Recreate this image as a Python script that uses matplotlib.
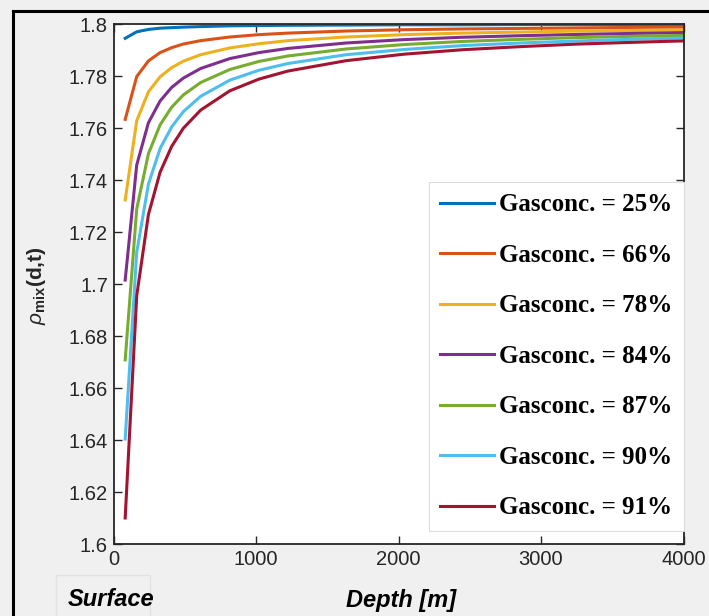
import matplotlib
matplotlib.use("Agg")
import matplotlib.pyplot as plt
from matplotlib.patches import Rectangle
from matplotlib.lines import Line2D

# ******************************************************************************
# * data
# ******************************************************************************
depth = [82, 163, 245, 327, 408, 490, 612, 816, 1020, 1224, 1633, 2041,
         2449, 2857, 3265, 3673, 4000]

labels = ['Gasconc. = 25%', 'Gasconc. = 66%', 'Gasconc. = 78%',
          'Gasconc. = 84%', 'Gasconc. = 87%', 'Gasconc. = 90%',
          'Gasconc. = 91%']

rho_25 = [1.7945, 1.7970, 1.7979, 1.7984, 1.7986, 1.7988, 1.7990, 1.7993,
          1.7994, 1.7995, 1.7996, 1.7997, 1.7997, 1.7998, 1.7998, 1.7998, 1.7998]
rho_66 = [1.7633, 1.7798, 1.7858, 1.7890, 1.7909, 1.7923, 1.7936, 1.7950,
          1.7959, 1.7965, 1.7973, 1.7978, 1.7981, 1.7983, 1.7985, 1.7987, 1.7988]
rho_78 = [1.7323, 1.7628, 1.7739, 1.7797, 1.7832, 1.7857, 1.7882, 1.7908,
          1.7924, 1.7936, 1.7950, 1.7959, 1.7965, 1.7969, 1.7973, 1.7975, 1.7977]
rho_84 = [1.7015, 1.7458, 1.7620, 1.7704, 1.7756, 1.7792, 1.7829, 1.7867,
          1.7890, 1.7906, 1.7927, 1.7940, 1.7949, 1.7955, 1.7960, 1.7964, 1.7967]
rho_87 = [1.6708, 1.7289, 1.7501, 1.7612, 1.7680, 1.7727, 1.7775, 1.7825,
          1.7856, 1.7877, 1.7904, 1.7921, 1.7933, 1.7941, 1.7948, 1.7953, 1.7956]
rho_90 = [1.6404, 1.7122, 1.7384, 1.7521, 1.7604, 1.7663, 1.7722, 1.7784,
          1.7822, 1.7848, 1.7882, 1.7902, 1.7917, 1.7927, 1.7935, 1.7942, 1.7946]
rho_91 = [1.6100, 1.6955, 1.7267, 1.7430, 1.7529, 1.7599, 1.7669, 1.7743,
          1.7788, 1.7819, 1.7859, 1.7884, 1.7901, 1.7913, 1.7923, 1.7930, 1.7935]

series = [rho_25, rho_66, rho_78, rho_84, rho_87, rho_90, rho_91]

# MATLAB default line colours
colors = ['#0072BD', '#D95319', '#EDB120', '#7E2F8E', '#77AC30', '#4DBEEE',
          '#A2142F']

xticks = [0, 1000, 2000, 3000, 4000]
yticks = [1.6 + 0.02 * i for i in range(11)]

# ******************************************************************************
# * figure
# ******************************************************************************
plt.rcParams['font.family'] = ['Liberation Sans', 'DejaVu Sans']
plt.rcParams['mathtext.fontset'] = 'custom'
plt.rcParams['mathtext.rm'] = 'Liberation Sans:bold'
plt.rcParams['mathtext.it'] = 'Liberation Sans:italic'
plt.rcParams['mathtext.bf'] = 'Liberation Sans:bold'

W, H = 709, 616
fig = plt.figure(figsize=(W / 100, H / 100), dpi=100, facecolor='#f0f0f0')
ax = fig.add_axes([113.5 / W, 1 - 544 / H, 570 / W, 520 / H])
ax.set_facecolor('white')

for vals, lab, c in zip(series, labels, colors):
    ax.plot(depth, vals, color=c, lw=2.2, label=lab)

ax.set_xlim(0, 4000)
ax.set_ylim(1.6, 1.8)
ax.set_xticks(xticks)
ax.set_xticklabels([str(t) for t in xticks])
ax.set_yticks(yticks)
ax.set_yticklabels(['%g' % round(t, 2) for t in yticks])
ax.tick_params(direction='in', length=6, width=1, top=True, right=True,
               labelsize=14.5, colors='#262626', pad=4)
for sp in ax.spines.values():
    sp.set_linewidth(1.3)
    sp.set_color('#262626')

leg = ax.legend(loc='upper right', bbox_to_anchor=(1.0, 0.696),
                borderaxespad=0, fancybox=False, framealpha=1,
                edgecolor='#dcdcdc', handlelength=2.15, handletextpad=0.2,
                borderpad=0.45, labelspacing=1.1,
                prop={'family': 'Liberation Serif', 'weight': 'bold',
                      'size': 18})
leg.get_frame().set_linewidth(0.8)

fig.text(36 / W, 1 - 286 / H, r'$\rho_{\mathbf{mix}}$(d,t)',
         rotation=90, ha='center', va='center', fontsize=15,
         fontweight='bold', color='#262626')

fig.text(68 / W, 1 - 600 / H, 'Surface', ha='left', va='center',
         fontsize=17, fontweight='bold', fontstyle='italic', color='black')
fig.text(401 / W, 1 - 600 / H, 'Depth [m]', ha='center', va='center',
         fontsize=17, fontweight='bold', fontstyle='italic', color='black')

fig.add_artist(Rectangle((56 / W, -0.05), 94 / W, 0.05 + (616 - 575) / H,
                         transform=fig.transFigure, fill=False,
                         edgecolor='#e2e2e2', lw=1))

# outer frame of the screenshot
fig.add_artist(Line2D([12.5 / W, 12.5 / W], [0, 1 - 11 / H],
                      transform=fig.transFigure, color='black', lw=2.2))
fig.add_artist(Line2D([12.5 / W, 1], [1 - 11 / H, 1 - 11 / H],
                      transform=fig.transFigure, color='black', lw=2.2))

fig.savefig('out.png', dpi=100, facecolor=fig.get_facecolor())
